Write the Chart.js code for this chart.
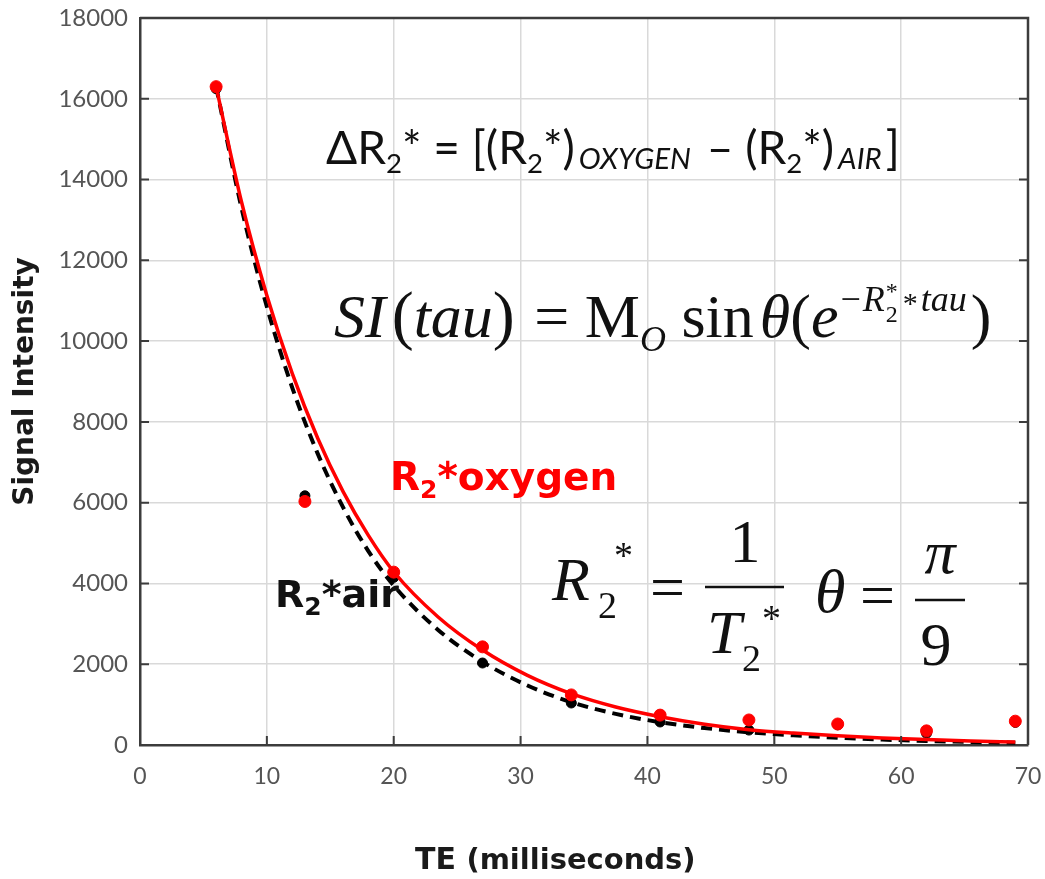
<!DOCTYPE html>
<html>
<head>
<meta charset="utf-8">
<script src="https://cdn.jsdelivr.net/npm/chart.js@4.4.1/dist/chart.umd.min.js"></script>
<style>
  body { margin: 0; background: #fff; }
  canvas { display: block; }
</style>
</head>
<body>
<canvas id="decayChart" width="1045" height="879"></canvas>
<script>
// measured points, TE in ms
const teValues = [6, 13, 20, 27, 34, 41, 48, 55, 62, 69];
const siOxygen = [16300, 6030, 4280, 2430, 1240, 740, 620, 520, 350, 590];
const siAir = [16250, 6170, 4150, 2030, 1040, 570, 370, 500, 290, 560];

// fitted curves
const fitTeOxygen = [6, 8, 10, 12, 14, 16, 18, 20, 23.5, 27, 30.5, 34, 37.5, 41, 44.5, 48, 51.5, 55, 58.5, 62, 65.5, 69];
const fitOxygen = [16300, 13450, 11130, 9200, 7600, 6280, 5190, 4290, 3170, 2350, 1730, 1270, 940, 700, 515, 380, 295, 230, 175, 135, 100, 75];
const fitTeAir = [6, 8, 10, 12, 14, 16, 18, 20, 23.5, 27, 30.5, 34, 37.5, 41, 44.5, 48, 51.5, 55, 58.5, 62, 65.5, 69];
const fitAir = [16300, 13300, 10850, 8850, 7220, 5890, 4800, 3950, 2850, 2060, 1480, 1060, 770, 565, 420, 315, 240, 180, 135, 100, 75, 55];

const xTicks = [0, 10, 20, 30, 40, 50, 60, 70];
const yTicks = [0, 2000, 4000, 6000, 8000, 10000, 12000, 14000, 16000, 18000];

const RED = '#ff0000';
const AXIS = '#3c3c3c';

const toPoints = (xs, ys) => xs.map((x, i) => ({ x: x, y: ys[i] }));

// draws a row of text pieces one after another
function drawRuns(ctx, x, y, runs) {
    runs.forEach(r => {
        ctx.font = r.f;
        ctx.fillText(r.t, x + (r.dx || 0), y + (r.dy || 0));
        if (!r.noAdvance) x += ctx.measureText(r.t).width + (r.dx || 0);
    });
}

const extras = {
    id: 'extras',
    afterDraw(chart) {
        const ctx = chart.ctx;
        const a = chart.chartArea;
        const xs = chart.scales.x, ys = chart.scales.y;
        ctx.save();

        // frame and inner ticks
        ctx.strokeStyle = AXIS;
        ctx.lineWidth = 2.5;
        ctx.beginPath();
        ctx.moveTo(a.left, a.top); ctx.lineTo(a.right, a.top); ctx.lineTo(a.right, a.bottom);
        ctx.stroke();
        ctx.lineWidth = 2;
        ctx.beginPath();
        yTicks.forEach(v => {
            const py = ys.getPixelForValue(v);
            ctx.moveTo(a.left, py); ctx.lineTo(a.left + 9, py);
            ctx.moveTo(a.right, py); ctx.lineTo(a.right - 9, py);
        });
        xTicks.forEach(v => {
            const px = xs.getPixelForValue(v);
            ctx.moveTo(px, a.bottom); ctx.lineTo(px, a.bottom - 9);
        });
        ctx.stroke();

        ctx.textAlign = 'left';
        ctx.textBaseline = 'alphabetic';

        // x axis title
        ctx.fillStyle = '#1a1a1a';
        drawRuns(ctx, 415, 869, [
            { t: 'TE ', f: 'bold 30px "DejaVu Sans"' },
            { t: '(milliseconds)', f: 'bold 29px "DejaVu Sans"' }
        ]);

        // delta R2* line
        const S = 46;
        const sans = '"Lato"';
        const sub = { f: `${S * 0.6}px ${sans}`, dy: S * 0.2 };
        const it = { f: `italic ${S * 0.64}px ${sans}`, dy: S * 0.1 };
        ctx.fillStyle = '#111';
        drawRuns(ctx, 326, 164, [
            { t: '\u0394R', f: `${S}px ${sans}` },
            { t: '2', ...sub },
            { t: '* = [(R', f: `${S}px ${sans}` },
            { t: '2', ...sub },
            { t: '*)', f: `${S}px ${sans}` },
            { t: 'OXYGEN', ...it, dx: 4 },
            { t: ' \u2013 (R', f: `${S}px ${sans}`, dx: 4 },
            { t: '2', ...sub },
            { t: '*)', f: `${S}px ${sans}` },
            { t: 'AIR', ...it, dx: 4 },
            { t: ']', f: `${S}px ${sans}`, dx: 4 }
        ]);

        // SI(tau) line
        const serif = '"Liberation Serif"';
        drawRuns(ctx, 334, 337, [
            { t: 'SI', f: `italic 62px ${serif}` },
            { t: '(', f: `66px ${serif}`, dx: 6 },
            { t: 'tau', f: `italic 62px ${serif}` },
            { t: ')', f: `66px ${serif}` },
            { t: ' = M', f: `62px ${serif}`, dx: 4 },
            { t: 'O', f: `italic 36px ${serif}`, dy: 14 },
            { t: ' sin', f: `62px ${serif}` },
            { t: '\u03b8', f: `italic 62px ${serif}`, dx: 6 },
            { t: '(', f: `62px ${serif}` },
            { t: 'e', f: `italic 62px ${serif}` },
            { t: '\u2212', f: `36px ${serif}`, dy: -26, dx: 2 },
            { t: 'R', f: `italic 36px ${serif}`, dy: -26, dx: 2 },
            { t: '*', f: `24px ${serif}`, dy: -38, dx: 1, noAdvance: true },
            { t: '2', f: `24px ${serif}`, dy: -15, dx: 1 },
            { t: '*', f: `30px ${serif}`, dy: -24, dx: 5 },
            { t: 'tau', f: `italic 36px ${serif}`, dy: -26, dx: 3 },
            { t: ')', f: `62px ${serif}`, dx: 4 }
        ]);

        // curve labels
        ctx.fillStyle = RED;
        drawRuns(ctx, 390, 490, [
            { t: 'R', f: 'bold 39px "DejaVu Sans"' },
            { t: '2', f: 'bold 25px "DejaVu Sans"', dy: 8 },
            { t: '*oxygen', f: 'bold 39px "DejaVu Sans"' }
        ]);
        ctx.fillStyle = '#111';
        drawRuns(ctx, 275, 607, [
            { t: 'R', f: 'bold 38px "DejaVu Sans"' },
            { t: '2', f: 'bold 25px "DejaVu Sans"', dy: 8 },
            { t: '*air', f: 'bold 38px "DejaVu Sans"' }
        ]);

        // R2* = 1/T2*, theta = pi/9
        ctx.fillStyle = '#111';
        ctx.font = `italic 62px ${serif}`;
        ctx.fillText('R', 552, 600);
        ctx.font = `38px ${serif}`;
        ctx.fillText('2', 598, 618);
        ctx.fillText('*', 614, 568);
        ctx.font = `62px ${serif}`;
        ctx.fillText('=', 650, 608);
        ctx.fillText('=', 860, 616);
        ctx.textAlign = 'center';
        ctx.fillText('1', 745, 562);
        ctx.fillText('9', 936, 665);
        ctx.font = `italic 62px ${serif}`;
        ctx.fillText('\u03c0', 940, 573);
        ctx.textAlign = 'left';
        ctx.fillText('T', 707, 653);
        ctx.fillText('\u03b8', 815, 612);
        ctx.font = `38px ${serif}`;
        ctx.fillText('2', 742, 671);
        ctx.fillText('*', 762, 631);
        ctx.lineWidth = 2.5;
        ctx.strokeStyle = '#111';
        ctx.beginPath();
        ctx.moveTo(705, 587); ctx.lineTo(784, 587);
        ctx.moveTo(915, 600); ctx.lineTo(965, 600);
        ctx.stroke();

        ctx.restore();
    }
};

new Chart(document.getElementById('decayChart'), {
    type: 'scatter',
    data: {
        datasets: [{
            label: 'Oxygen',
            data: toPoints(teValues, siOxygen),
            backgroundColor: RED,
            borderColor: RED,
            pointRadius: 6,
            order: 0
        }, {
            label: 'Oxygen fit',
            data: toPoints(fitTeOxygen, fitOxygen),
            showLine: true,
            borderColor: RED,
            borderWidth: 3.5,
            pointRadius: 0,
            cubicInterpolationMode: 'monotone',
            order: 1
        }, {
            label: 'Air',
            data: toPoints(teValues, siAir),
            backgroundColor: '#000',
            borderColor: '#000',
            pointRadius: 5,
            order: 2
        }, {
            label: 'Air fit',
            data: toPoints(fitTeAir, fitAir),
            showLine: true,
            borderColor: '#000',
            borderWidth: 4,
            borderDash: [11, 7],
            pointRadius: 0,
            cubicInterpolationMode: 'monotone',
            order: 3
        }]
    },
    options: {
        responsive: false,
        animation: false,
        layout: { padding: { top: 18, right: 17, left: 0, bottom: 0 } },
        plugins: { legend: { display: false }, tooltip: { enabled: false } },
        scales: {
            x: {
                type: 'linear',
                min: 0, max: 70,
                afterFit: s => { s.height = 134; s.paddingLeft = 0; s.paddingRight = 0; },
                afterBuildTicks: s => { s.ticks = xTicks.map(v => ({ value: v })); },
                ticks: { color: '#555', font: { family: 'Lato', size: 23 }, padding: 18 },
                grid: { color: '#d9d9d9', lineWidth: 1.5, drawTicks: false },
                border: { color: AXIS, width: 2.5 }
            },
            y: {
                min: 0, max: 18000,
                afterFit: s => { s.width = 140; s.paddingTop = 0; s.paddingBottom = 0; },
                afterBuildTicks: s => { s.ticks = yTicks.map(v => ({ value: v })); },
                ticks: { color: '#555', font: { family: 'Lato', size: 24 }, padding: 12, callback: v => String(v) },
                grid: { color: '#d9d9d9', lineWidth: 1.5, drawTicks: false },
                border: { color: AXIS, width: 2.5 },
                title: {
                    display: true,
                    text: 'Signal Intensity',
                    color: '#1a1a1a',
                    font: { family: 'DejaVu Sans', size: 28, weight: 'bold' },
                    padding: { top: 9, bottom: 0 }
                }
            }
        }
    },
    plugins: [extras]
});
</script>
</body>
</html>
